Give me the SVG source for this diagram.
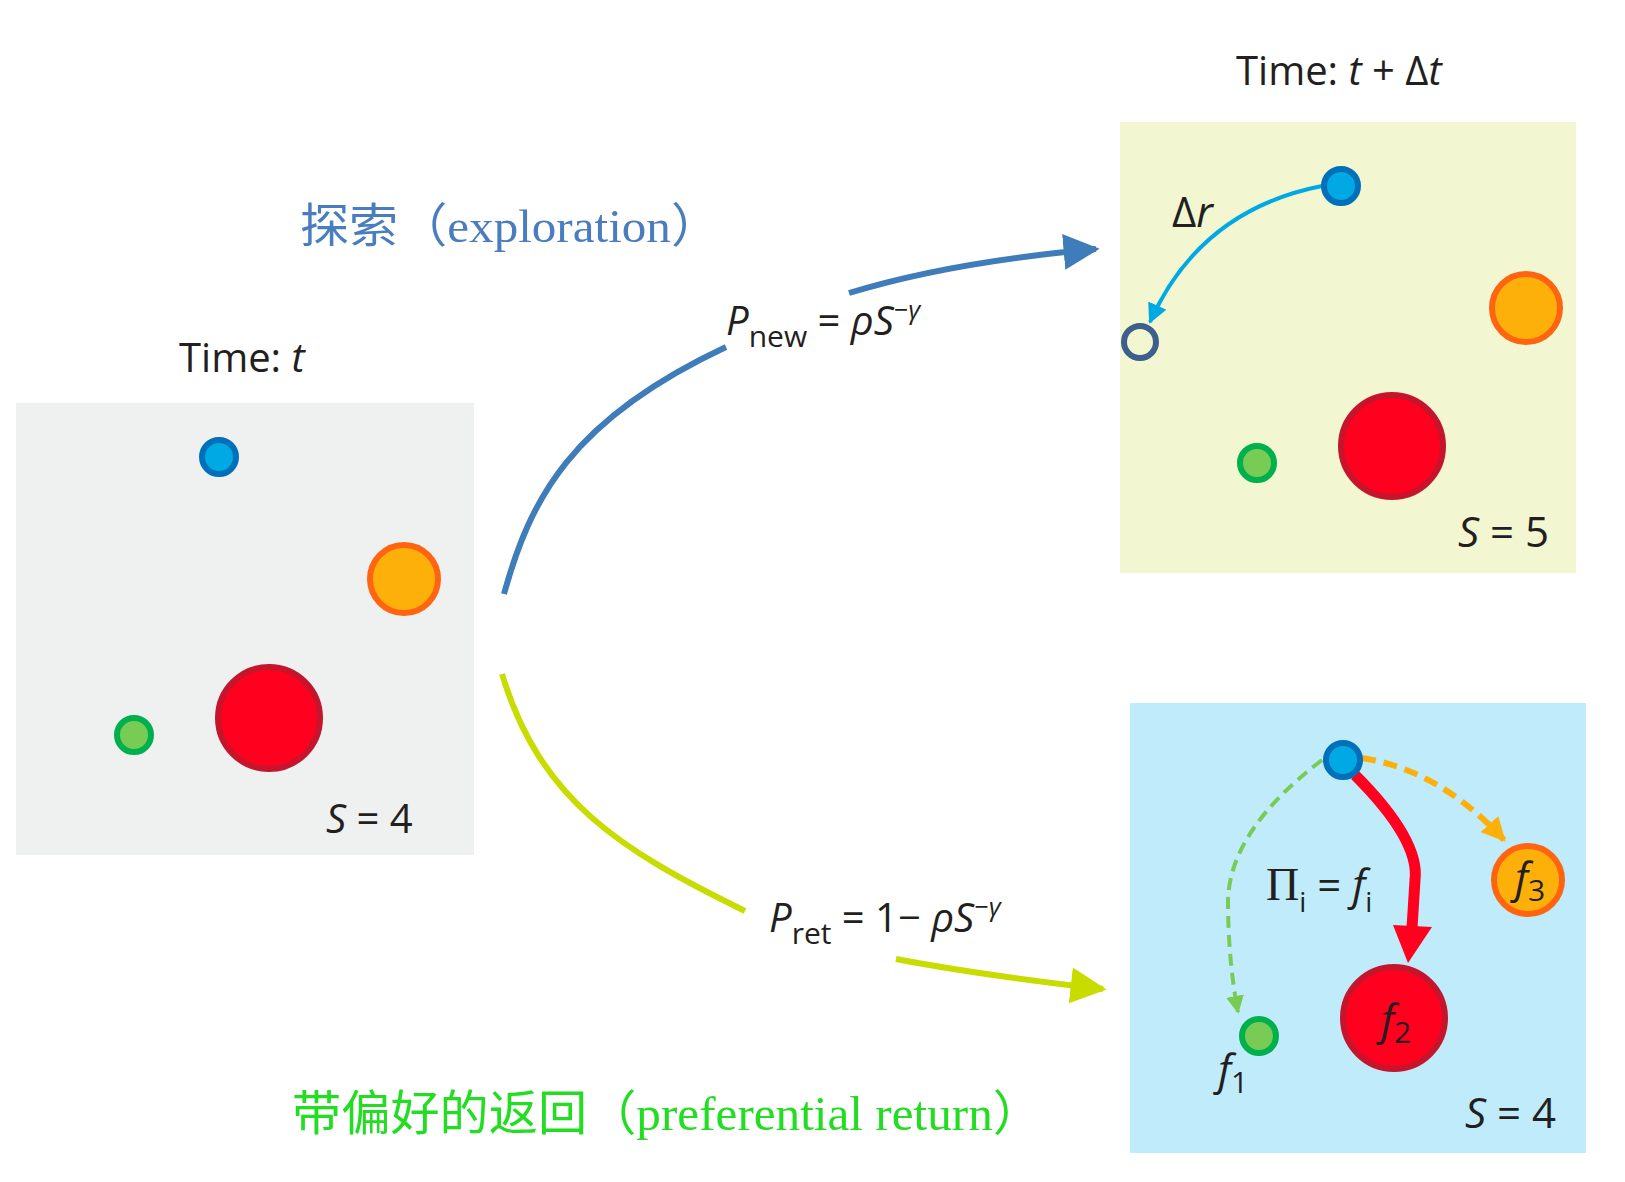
<svg xmlns="http://www.w3.org/2000/svg" width="1625" height="1182" viewBox="0 0 1625 1182">
<style>
.t{font-family:"Open Sans","Liberation Sans",sans-serif;fill:#231f20}
.i{font-style:italic}
.blue{fill:#00a9e3;stroke:#0070ba;stroke-width:6}
.org{fill:#fdb00a;stroke:#ff6410;stroke-width:6}
.red{fill:#ff001e;stroke:#c4152c;stroke-width:6}
.grn{fill:#78cc55;stroke:#00b04c;stroke-width:6}
</style>
<defs>
<marker id="mb" viewBox="0 0 10 10" refX="9" refY="5" markerWidth="6" markerHeight="6" markerUnits="strokeWidth" orient="auto"><path d="M0,0L10,5L0,10z" fill="#3f7cba"/></marker>
<marker id="mg" viewBox="0 0 10 10" refX="9" refY="5" markerWidth="6" markerHeight="6" markerUnits="strokeWidth" orient="auto"><path d="M0,0L10,5L0,10z" fill="#c8dc00"/></marker>
<marker id="mc" viewBox="0 0 10 10" refX="9" refY="5" markerWidth="5" markerHeight="5" markerUnits="strokeWidth" orient="auto"><path d="M0,0L10,5L0,10z" fill="#00a9e3"/></marker>
<marker id="mo" viewBox="0 0 10 10" refX="9" refY="5" markerWidth="4" markerHeight="4" markerUnits="strokeWidth" orient="auto"><path d="M0,0L10,5L0,10z" fill="#fdb00a"/></marker>
<marker id="ml" viewBox="0 0 10 10" refX="9" refY="5" markerWidth="4.5" markerHeight="4.5" markerUnits="strokeWidth" orient="auto"><path d="M0,0L10,5L0,10z" fill="#78cc55"/></marker>
</defs>
<rect width="1625" height="1182" fill="#fff"/>

<g id="panel-t">
<text class="t" x="179" y="372" font-size="40">Time: <tspan class="i">t</tspan></text>
<rect x="16" y="403" width="458" height="452" fill="#eff0f0"/>
<circle class="blue" cx="219" cy="457" r="17"/>
<circle class="org" cx="404" cy="579" r="34"/>
<circle class="red" cx="269" cy="718" r="51"/>
<circle class="grn" cx="134" cy="735" r="17"/>
<text class="t" x="326" y="833" font-size="40"><tspan class="i">S</tspan> = 4</text>
</g>

<g id="panel-explore">
<text class="t" x="1236" y="85" font-size="40">Time: <tspan class="i">t</tspan> + Δ<tspan class="i">t</tspan></text>
<rect x="1120" y="122" width="456" height="451" fill="#f2f7d2"/>
<circle class="org" cx="1526" cy="308" r="34"/>
<circle class="red" cx="1392" cy="446" r="51"/>
<circle class="grn" cx="1257" cy="463" r="17"/>
<circle cx="1140" cy="342" r="16" fill="none" stroke="#3d5f8c" stroke-width="6"/>
<path d="M1322,186 Q1200,210 1150,322" fill="none" stroke="#00a9e3" stroke-width="4" marker-end="url(#mc)"/>
<circle class="blue" cx="1341" cy="186" r="17"/>
<text class="t" x="1172" y="227" font-size="42">Δ<tspan class="i">r</tspan></text>
<text class="t" x="1458" y="547" font-size="42"><tspan class="i">S</tspan> = 5</text>
</g>

<g id="panel-return">
<rect x="1130" y="703" width="456" height="450" fill="#c0ebfb"/>
<circle class="org" cx="1528" cy="880" r="34"/>
<circle class="red" cx="1394" cy="1018" r="51"/>
<circle class="grn" cx="1259" cy="1036" r="17"/>
<path d="M1322,760 Q1230,830 1228,900 Q1228,960 1238,1012" fill="none" stroke="#78cc55" stroke-width="4" stroke-dasharray="12,7" marker-end="url(#ml)"/>
<path d="M1362,758 Q1440,770 1504,840" fill="none" stroke="#fdb00a" stroke-width="6" stroke-dasharray="14,8" marker-end="url(#mo)"/>
<path d="M1355,775 Q1420,840 1415,880 L1412,928" fill="none" stroke="#ff001e" stroke-width="11"/>
<path d="M1393,925 L1432,927 L1408,963 z" fill="#ff001e"/>
<circle class="blue" cx="1343" cy="760" r="17"/>
<text class="t" x="1266" y="900" font-size="42"><tspan font-family="Liberation Serif,serif" font-size="46">Π</tspan><tspan font-size="28" dy="12">i</tspan><tspan dy="-12"> = </tspan><tspan class="i">f</tspan><tspan font-size="28" dy="12">i</tspan></text>
<text class="t" x="1218" y="1085" font-size="42"><tspan class="i">f</tspan><tspan font-size="30" dy="8">1</tspan></text>
<text class="t" x="1381" y="1035" font-size="42"><tspan class="i">f</tspan><tspan font-size="30" dy="8">2</tspan></text>
<text class="t" x="1515" y="893" font-size="42"><tspan class="i">f</tspan><tspan font-size="30" dy="8">3</tspan></text>
<text class="t" x="1465" y="1128" font-size="42"><tspan class="i">S</tspan> = 4</text>
</g>

<g id="connectors">
<path d="M504,594 C530,500 570,420 726,347" fill="none" stroke="#3f7cba" stroke-width="6"/>
<path d="M849,293 Q950,262 1096,249" fill="none" stroke="#3f7cba" stroke-width="6" marker-end="url(#mb)"/>
<path d="M502,674 C540,800 620,850 745,911" fill="none" stroke="#c8dc00" stroke-width="6"/>
<path d="M896,959 Q980,975 1103,989" fill="none" stroke="#c8dc00" stroke-width="6" marker-end="url(#mg)"/>
</g>

<g id="labels">
<text x="300" y="242" font-size="47" textLength="420" lengthAdjust="spacingAndGlyphs" fill="#4a7dbf" font-family="Liberation Serif,Noto Sans CJK SC,serif">探索（exploration）</text>
<text class="t" x="726" y="335" font-size="40"><tspan class="i">P</tspan><tspan font-size="30" dy="12">new</tspan><tspan dy="-12"> = </tspan><tspan class="i">ρS</tspan><tspan class="i" font-size="26" dy="-16">−γ</tspan></text>
<text class="t" x="769" y="932" font-size="40"><tspan class="i">P</tspan><tspan font-size="30" dy="12">ret</tspan><tspan dy="-12"> = 1− </tspan><tspan class="i">ρS</tspan><tspan class="i" font-size="26" dy="-16">−γ</tspan></text>
<text x="292" y="1130" font-size="48" textLength="750" lengthAdjust="spacingAndGlyphs" fill="#22dd22" font-family="Liberation Serif,Noto Sans CJK SC,serif">带偏好的返回（preferential return）</text>
</g>
</svg>
